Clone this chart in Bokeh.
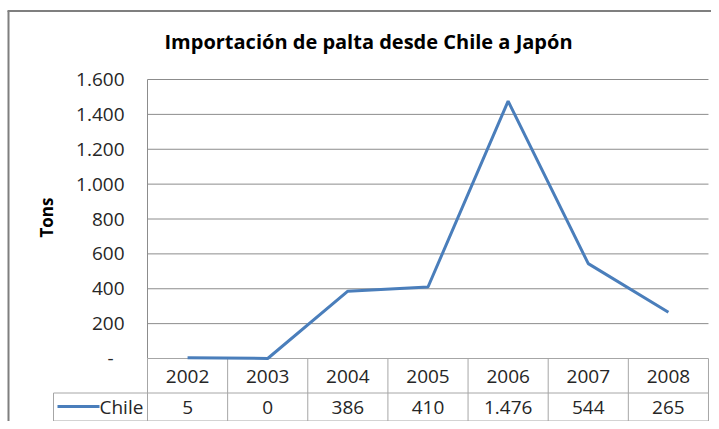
from bokeh.plotting import figure
from bokeh.models import Range1d
from bokeh.core.properties import value
from bokeh.embed import file_html
from bokeh.resources import INLINE
import math

# ---- data ----
years = ["2002", "2003", "2004", "2005", "2006", "2007", "2008"]
chile = [5, 0, 386, 410, 1476, 544, 265]
series_name = "Chile"
y_ticks = [0, 200, 400, 600, 800, 1000, 1200, 1400, 1600]
title_text = "Importación de palta desde Chile a Japón"
y_title = "Tons"


def fmt(v):
    return "-" if v == 0 else f"{v:,}".replace(",", ".")


# ---- layout helpers (picture pixels -> data units) ----
W, H = 711, 421
X0_PX = 147.0
CAT_W = 80.14
Y0_PX = 358.0
PX_PER_UNIT = 279.0 / 1600.0


def px2x(px):
    return (px - X0_PX) / CAT_W


def px2y(py):
    return (Y0_PX - py) / PX_PER_UNIT


FONT = value("Open Sans")
BLUE = "#4a7ebb"
GRID = "#8c8c8c"
TABLE = "#a6a6a6"
TEXT = "#262626"

p = figure(width=W, height=H, output_backend="svg", toolbar_location=None,
           x_range=Range1d(px2x(0), px2x(W)), y_range=Range1d(px2y(H), px2y(0)),
           x_axis_type=None, y_axis_type=None, min_border=0)
p.grid.visible = False
p.outline_line_color = None
p.background_fill_color = "white"
p.border_fill_color = "white"

n = len(years)
xc = [i + 0.5 for i in range(n)]

# chart outer border (left and top)
p.segment(x0=[px2x(8), px2x(7)], y0=[px2y(10.5), px2y(10.5)],
          x1=[px2x(8), px2x(W)], y1=[px2y(H), px2y(10.5)],
          line_color="#7f7f7f", line_width=2)

# title
p.text(x=[px2x(368)], y=[px2y(41)], text=[title_text], text_font=FONT,
       text_font_size="20px", text_font_style="bold", text_align="center",
       text_baseline="middle", text_color="#000000")

# gridlines
grid_vals = [v for v in y_ticks if v > 0]
p.segment(x0=[0] * len(grid_vals), x1=[n] * len(grid_vals), y0=grid_vals, y1=grid_vals,
          line_color=GRID, line_width=1)
# plot area left border
p.segment(x0=[0], x1=[0], y0=[0], y1=[y_ticks[-1]], line_color=GRID, line_width=1)

# y tick labels
tick_x = [px2x(124) if v > 0 else px2x(113) for v in y_ticks]
p.text(x=tick_x, y=y_ticks, text=[fmt(v) for v in y_ticks], text_font=FONT,
       text_font_size="19px", text_align="right", text_baseline="middle", text_color=TEXT)

# y axis title
p.text(x=[px2x(46)], y=[px2y(217)], text=[y_title], text_font=FONT, text_font_size="17px",
       text_font_style="bold", text_align="center", text_baseline="middle",
       angle=math.pi / 2, text_color="#000000")

# data table grid
row1 = px2y(392.5)
row2 = px2y(420.5)
p.segment(x0=[0, px2x(53), px2x(53)], x1=[n, n, n], y0=[0, row1, row2], y1=[0, row1, row2],
          line_color=TABLE, line_width=1)
p.segment(x0=list(range(n + 1)), x1=list(range(n + 1)), y0=[0] * (n + 1), y1=[row2] * (n + 1),
          line_color=TABLE, line_width=1)
p.segment(x0=[px2x(53)], x1=[px2x(53)], y0=[row1], y1=[row2], line_color=TABLE, line_width=1)

# table texts
p.text(x=xc, y=[px2y(375.5)] * n, text=years, text_font=FONT, text_font_size="19px",
       text_align="center", text_baseline="middle", text_color=TEXT)
p.text(x=xc, y=[px2y(406.5)] * n, text=[fmt(v) if v != 0 else "0" for v in chile],
       text_font=FONT, text_font_size="19px", text_align="center", text_baseline="middle",
       text_color=TEXT)

# legend key in table
p.line(x=[px2x(57), px2x(99)], y=[px2y(406)] * 2, line_color=BLUE, line_width=3)
p.text(x=[px2x(99)], y=[px2y(406.5)], text=[series_name], text_font=FONT, text_font_size="19px",
       text_align="left", text_baseline="middle", text_color=TEXT)

# data line
p.line(x=xc, y=chile, line_color=BLUE, line_width=3)

open("out.html", "w").write(file_html(p, INLINE))
